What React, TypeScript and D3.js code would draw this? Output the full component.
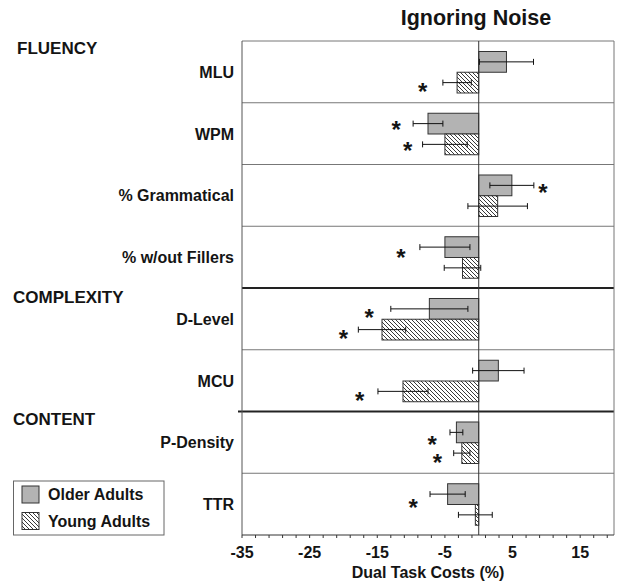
import React from "react";
import * as d3 from "d3";

const categories = ["MLU", "WPM", "% Grammatical", "% w/out Fillers", "D-Level", "MCU", "P-Density", "TTR"];
const groupNames = ["FLUENCY", "COMPLEXITY", "CONTENT"];
const groupStarts = [0, 4, 6];

const olderMeans = [4.1, -7.5, 4.9, -5.0, -7.3, 2.9, -3.3, -4.6];
const olderErrors = [4.0, 2.2, 3.25, 3.7, 5.7, 3.8, 0.95, 2.6];
const youngMeans = [-3.2, -5.0, 2.8, -2.4, -14.3, -11.2, -2.5, -0.5];
const youngErrors = [2.1, 3.3, 4.4, 2.7, 3.5, 3.7, 1.2, 2.5];

// significance markers: category, x value, position within band (0..1)
const starCats = ["MLU", "WPM", "WPM", "% Grammatical", "% w/out Fillers", "D-Level", "D-Level", "MCU", "P-Density", "P-Density", "TTR"];
const starX = [-8.3, -12.2, -10.5, 9.5, -11.5, -16.2, -20.0, -17.6, -6.9, -6.1, -9.7];
const starPos = [0.745, 0.36, 0.695, 0.376, 0.438, 0.41, 0.745, 0.749, 0.46, 0.758, 0.477];

const tickValues = d3.range(-35, 20, 2);
const tickLabels = d3.range(-35, 20, 10);
const seriesNames = ["Older Adults", "Young Adults"];

const W = 620;
const H = 584;
const FONT = "'Liberation Sans', Arial, Helvetica, sans-serif";

export default function App() {
  const left = 242, right = 614, top = 41, bottom = 535;
  const x = d3.scaleLinear().domain([-35, 20]).range([left, right]);
  const y = d3.scaleBand<string>().domain(categories).range([top, bottom]).padding(0);
  const bw = y.bandwidth();
  const barH = bw * 0.336;
  const off = bw * 0.17;
  const x0 = x(0);
  const capH = 3;
  const txt = "#141414";

  const series = [
    { means: olderMeans, errs: olderErrors, fill: "#b3b3b3", dy: off },
    { means: youngMeans, errs: youngErrors, fill: "url(#hatch)", dy: off + barH },
  ];

  return (
    <svg width={W} height={H} style={{ position: "absolute", left: 0, top: 0, background: "#fff" }} fontFamily={FONT}>
      <defs>
        <pattern id="hatch" patternUnits="userSpaceOnUse" width={4} height={4}>
          <rect width={4} height={4} fill="#fff" />
          <path d="M0,0 L4,4 M-1,3 L1,5 M3,-1 L5,1" stroke="#222" strokeWidth={0.9} />
        </pattern>
      </defs>

      {/* title */}
      <text x={476} y={25} textAnchor="middle" fontSize={21.5} fontWeight="bold" fill={txt}>Ignoring Noise</text>

      {/* band dividers */}
      {categories.slice(1).map((c, i) => {
        const isGroup = groupStarts.includes(i + 1);
        return (
          <line key={c} x1={isGroup && i + 1 === 6 ? left - 4 : left} x2={right} y1={y(c)!} y2={y(c)!}
            stroke={isGroup ? "#222" : "#777"} strokeWidth={isGroup ? 2 : 1} />
        );
      })}

      {/* frame */}
      <line x1={left} x2={right} y1={top} y2={top} stroke="#777" strokeWidth={1} />
      <line x1={right} x2={right} y1={top} y2={bottom} stroke="#777" strokeWidth={1} />
      <line x1={left} x2={left} y1={top} y2={bottom} stroke="#555" strokeWidth={1} />

      {/* bars */}
      {series.map((s, si) =>
        categories.map((c, i) => {
          const v = s.means[i];
          const yy = y(c)! + s.dy;
          return (
            <rect key={`b${si}-${i}`} x={Math.min(x(v), x0)} y={yy} width={Math.abs(x(v) - x0)} height={barH}
              fill={s.fill} stroke="#333" strokeWidth={1} />
          );
        })
      )}

      {/* zero line */}
      <line x1={x0} x2={x0} y1={top} y2={bottom} stroke="#333" strokeWidth={1} />

      {/* error bars */}
      {series.map((s, si) =>
        categories.map((c, i) => {
          const v = s.means[i];
          const e = s.errs[i];
          const cy = y(c)! + s.dy + barH / 2;
          const a = x(v - e), b = x(v + e);
          return (
            <g key={`e${si}-${i}`} stroke="#111" strokeWidth={1}>
              <line x1={a} x2={b} y1={cy} y2={cy} />
              <line x1={a} x2={a} y1={cy - capH} y2={cy + capH} />
              <line x1={b} x2={b} y1={cy - capH} y2={cy + capH} />
            </g>
          );
        })
      )}

      {/* stars */}
      {starCats.map((c, i) => (
        <text key={`s${i}`} x={x(starX[i])} y={y(c)! + starPos[i] * bw + 13} textAnchor="middle"
          fontSize={24} fontWeight="bold" fill={txt}>*</text>
      ))}

      {/* x axis */}
      <line x1={left} x2={right} y1={bottom} y2={bottom} stroke="#333" strokeWidth={1} />
      {tickValues.map((t) => (
        <line key={`t${t}`} x1={x(t)} x2={x(t)} y1={bottom} y2={bottom + 3} stroke="#333" strokeWidth={1} />
      ))}
      {tickLabels.map((t) => (
        <text key={`l${t}`} x={x(t)} y={558} textAnchor="middle" fontSize={16} fontWeight="bold" fill={txt}>{t}</text>
      ))}
      <text x={(left + right) / 2} y={578} textAnchor="middle" fontSize={16} fontWeight="bold" fill={txt}>Dual Task Costs (%)</text>

      {/* category labels */}
      {categories.map((c) => (
        <text key={`c${c}`} x={234} y={y(c)! + bw / 2 + 6} textAnchor="end" fontSize={16} fontWeight="bold" fill={txt}>{c}</text>
      ))}

      {/* group labels */}
      <text x={17} y={54} fontSize={17} fontWeight="bold" fill={txt}>{groupNames[0]}</text>
      <text x={13} y={302.5} fontSize={17} fontWeight="bold" fill={txt}>{groupNames[1]}</text>
      <text x={13} y={424.5} fontSize={17} fontWeight="bold" fill={txt}>{groupNames[2]}</text>

      {/* legend */}
      <rect x={13.5} y={481} width={150.5} height={54} fill="#fff" stroke="#666" strokeWidth={1} />
      <rect x={22} y={486} width={17} height={17} fill="#b3b3b3" stroke="#333" strokeWidth={1} />
      <rect x={22} y={512.5} width={17} height={17} fill="url(#hatch)" stroke="#333" strokeWidth={1} />
      <text x={48} y={500} fontSize={16} fontWeight="bold" fill={txt}>{seriesNames[0]}</text>
      <text x={48} y={527} fontSize={16} fontWeight="bold" fill={txt}>{seriesNames[1]}</text>
    </svg>
  );
}
